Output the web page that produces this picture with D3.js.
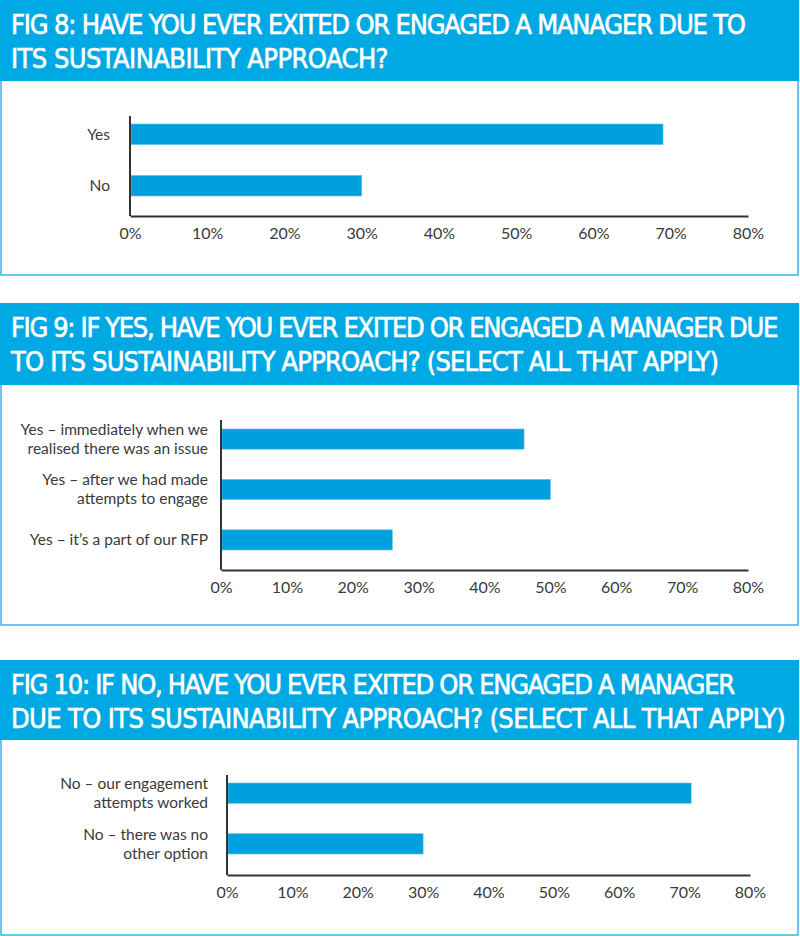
<!DOCTYPE html>
<html>
<head>
<meta charset="utf-8">
<script src="https://cdn.jsdelivr.net/npm/d3@7"></script>
<style>
  body { margin: 0; background: #fff; }
  svg { display: block; }
  .title { font-family: "DejaVu Sans Condensed", "Liberation Sans Narrow", sans-serif; font-weight: normal; fill: #fff; stroke: #fff; stroke-width: 0.6px; }
  .cat, .tick text { font-family: Lato, "Open Sans", sans-serif; fill: #3a3a3a; }
</style>
</head>
<body>
<div id="chart-area"></div>
<script>
// data
const fig8Categories = ["Yes", "No"];
const fig8Values = [69, 30];
const fig9Categories = [
  ["Yes \u2013 immediately when we", "realised there was an issue"],
  ["Yes \u2013 after we had made", "attempts to engage"],
  ["Yes \u2013 it\u2019s a part of our RFP"]
];
const fig9Values = [46, 50, 26];
const fig10Categories = [
  ["No \u2013 our engagement", "attempts worked"],
  ["No \u2013 there was no", "other option"]
];
const fig10Values = [71, 30];
const tickValues = [0, 10, 20, 30, 40, 50, 60, 70, 80];

const WIDTH = 800, HEIGHT = 937;
const HEADER_BLUE = "#00a9e4", BAR_BLUE = "#009fdd", BORDER_BLUE = "#38b3e6";

const svg = d3.select("#chart-area")
  .append("svg")
    .attr("width", WIDTH)
    .attr("height", HEIGHT);

// one panel per figure
const panels = [
  {
    title: ["FIG 8: HAVE YOU EVER EXITED OR ENGAGED A MANAGER DUE TO", "ITS SUSTAINABILITY APPROACH?"],
    titleW: [734, 377],
    cats: fig8Categories.map(d => [d]), values: fig8Values,
    top: 0, headerH: 81, bottom: 275,
    axisTop: 116, axisY: 216, barTop: 124, barBottom: 196,
    x0: 130, x1: 748, labelX: 110
  },
  {
    title: ["FIG 9: IF YES, HAVE YOU EVER EXITED OR ENGAGED A MANAGER DUE", "TO ITS SUSTAINABILITY APPROACH? (SELECT ALL THAT APPLY)"],
    titleW: [766, 707],
    cats: fig9Categories, values: fig9Values,
    top: 303, headerH: 82, bottom: 625,
    axisTop: 420, axisY: 570, barTop: 429, barBottom: 550,
    x0: 221, x1: 748, labelX: 208
  },
  {
    title: ["FIG 10: IF NO, HAVE YOU EVER EXITED OR ENGAGED A MANAGER", "DUE TO ITS SUSTAINABILITY APPROACH? (SELECT ALL THAT APPLY)"],
    titleW: [723, 774],
    cats: fig10Categories, values: fig10Values,
    top: 660, headerH: 80, bottom: 935,
    axisTop: 775, axisY: 875, barTop: 783, barBottom: 854,
    x0: 227, x1: 750, labelX: 208
  }
];

panels.forEach(p => {
  const g = svg.append("g");

  // frame + header
  g.append("rect")
    .attr("x", 1).attr("y", p.top + 1)
    .attr("width", WIDTH - 3).attr("height", p.bottom - p.top - 1)
    .attr("fill", "#fff")
    .attr("stroke", BORDER_BLUE)
    .attr("stroke-width", 1.5);

  g.append("rect")
    .attr("x", 0).attr("y", p.top)
    .attr("width", WIDTH - 1).attr("height", p.headerH)
    .attr("fill", HEADER_BLUE);

  // title lines, letter-spacing tuned so each line spans its width
  p.title.forEach((line, i) => {
    const t = g.append("text")
      .attr("class", "title")
      .attr("x", 11)
      .attr("y", p.top + 34 + i * 34)
      .attr("font-size", "27px")
      .text(line);
    const natural = t.node().getComputedTextLength();
    t.attr("letter-spacing", ((p.titleW[i] - natural) / line.length).toFixed(2) + "px");
  });

  // scales
  const keys = p.cats.map(c => c.join(" "));
  const x = d3.scaleLinear().domain([0, 80]).range([p.x0, p.x1]);
  const y = d3.scaleBand()
    .domain(keys)
    .range([p.barTop, p.barBottom])
    .paddingInner(0.6)
    .paddingOuter(0);

  // bars
  g.selectAll(".bar")
    .data(p.values)
    .enter()
    .append("rect")
      .attr("class", "bar")
      .attr("x", x(0) + 1)
      .attr("y", (d, i) => y(keys[i]))
      .attr("width", d => x(d) - x(0) - 1)
      .attr("height", y.bandwidth())
      .attr("fill", BAR_BLUE)
      .attr("stroke", "#5cc3ec")
      .attr("stroke-width", 0.6);

  // category labels, possibly on two lines
  p.cats.forEach((lines, i) => {
    const cy = y(keys[i]) + y.bandwidth() / 2;
    const lh = 19;
    const t = g.append("text")
      .attr("class", "cat")
      .attr("text-anchor", "end")
      .attr("font-size", "15.5px");
    lines.forEach((line, j) => {
      t.append("tspan")
        .attr("x", p.labelX)
        .attr("y", cy + (j - (lines.length - 1) / 2) * lh)
        .attr("dy", "0.35em")
        .text(line);
    });
  });

  // x axis
  const xAxis = g.append("g")
    .attr("transform", `translate(0, ${p.axisY})`)
    .call(d3.axisBottom(x)
      .tickValues(tickValues)
      .tickSize(0)
      .tickPadding(12)
      .tickFormat(d => d + "%"));
  xAxis.select(".domain")
    .attr("stroke", "#333")
    .attr("stroke-width", 2);
  xAxis.selectAll(".tick text")
    .attr("font-size", "16px")
    .attr("fill", "#3a3a3a");

  // y axis line
  g.append("line")
    .attr("x1", p.x0).attr("x2", p.x0)
    .attr("y1", p.axisTop).attr("y2", p.axisY)
    .attr("stroke", "#333")
    .attr("stroke-width", 2);
});
</script>
</body>
</html>
